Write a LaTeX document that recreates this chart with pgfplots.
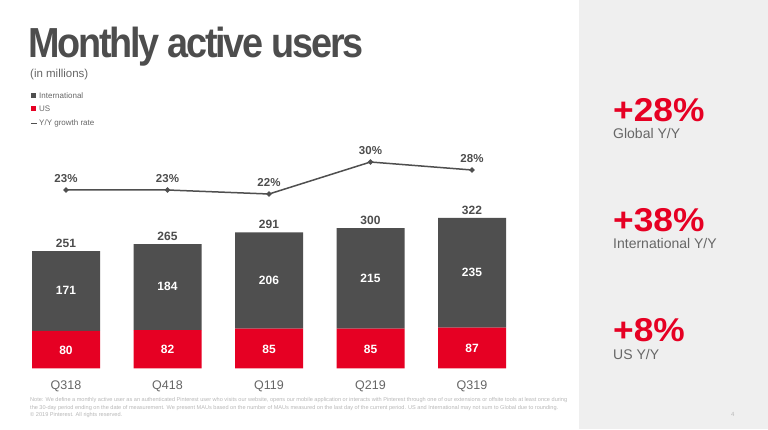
\documentclass[border=0pt]{standalone}
\usepackage{fontspec}
\setmainfont{Liberation Sans}
\newfontfamily\titlefont[LetterSpace=-6]{Liberation Sans}
\usepackage{pgfplots}
\pgfplotsset{compat=1.18}
\usepackage{graphicx}

\definecolor{pinred}{HTML}{E60023}
\definecolor{bargray}{HTML}{4F4F4F}
\definecolor{txtgray}{HTML}{4D4D4D}
\definecolor{softgray}{HTML}{666666}
\definecolor{panel}{HTML}{EFEFEF}
\definecolor{notegray}{HTML}{B8B8B8}

% common box for the bar axes (1pt = 1px)
\pgfplotsset{
  barbox/.style={
    at={(15.25pt,60.7pt)}, anchor=south west,
    scale only axis, width=507.5pt, height=186.8pt,
    xmin=-0.5, xmax=4.5, ymin=0, ymax=400,
    clip=false,
  },
}

\begin{document}
\begin{tikzpicture}[x=1pt,y=1pt]
\useasboundingbox (0,0) rectangle (768,429);
\fill[white] (0,0) rectangle (768,429);
\fill[panel] (579,0) rectangle (768,429);

% title block
\node[anchor=base west, inner sep=0, text=txtgray] at (28,371)
  {\scalebox{0.9}[1]{\fontsize{42}{42}\titlefont\bfseries Monthly active users}};
\node[anchor=base west, inner sep=0, text=softgray] at (30,351.5)
  {\fontsize{11.5}{12}\selectfont (in millions)};

% legend
\fill[bargray] (31,331) rectangle (36,336);
\node[anchor=west, inner sep=0, text=softgray] at (39,333.5) {\fontsize{8}{9}\selectfont International};
\fill[pinred] (31,318) rectangle (36,323);
\node[anchor=west, inner sep=0, text=softgray] at (39,320.5) {\fontsize{8}{9}\selectfont US};
\draw[bargray, line width=1.5pt] (31,305.7) -- (36.5,305.7);
\node[anchor=west, inner sep=0, text=softgray] at (39,306) {\fontsize{8}{9}\selectfont Y/Y growth rate};

% stacked bars
\begin{axis}[barbox,
  ybar stacked, bar width=68pt,
  axis line style={draw=none}, tick style={draw=none},
  ytick=\empty,
  xtick={0,1,2,3,4},
  xticklabels={Q318,Q418,Q119,Q219,Q319},
  xticklabel style={font=\fontsize{12.5}{14}\selectfont, text=softgray, yshift=-9pt},
]
\addplot[fill=pinred, draw=none] coordinates {(0,80) (1,82) (2,85) (3,85) (4,87)};
\addplot[fill=bargray, draw=none] coordinates {(0,171) (1,184) (2,206) (3,215) (4,235)};
\end{axis}

% value labels
\begin{axis}[barbox, hide axis]
\addplot[draw=none, nodes near coords, point meta=explicit symbolic,
  every node near coord/.style={anchor=center, text=white,
    font=\fontsize{12}{13}\selectfont\bfseries}]
  coordinates {(0,39) [80] (1,40) [82] (2,41) [85] (3,41) [85] (4,42) [87]};
\addplot[draw=none, nodes near coords, point meta=explicit symbolic,
  every node near coord/.style={anchor=center, text=white,
    font=\fontsize{12}{13}\selectfont\bfseries}]
  coordinates {(0,167) [171] (1,175) [184] (2,189) [206] (3,193) [215] (4,205) [235]};
\addplot[draw=none, nodes near coords, point meta=explicit symbolic,
  every node near coord/.style={anchor=south, inner sep=0pt, yshift=3.5pt, text=txtgray,
    font=\fontsize{12}{13}\selectfont\bfseries}]
  coordinates {(0,251) [251] (1,266) [265] (2,291) [291] (3,300) [300] (4,322) [322]};
\end{axis}

% growth rate line
\begin{axis}[
  at={(15.25pt,229pt)}, anchor=south west,
  scale only axis, width=507.5pt, height=50pt,
  xmin=-0.5, xmax=4.5, ymin=20.5, ymax=33,
  hide axis, clip=false,
]
\addplot[color=bargray, line width=1.5pt, mark=*, mark size=1.8pt,
  nodes near coords, point meta=explicit symbolic,
  every node near coord/.style={anchor=south, inner sep=0pt, yshift=6.5pt, text=txtgray,
    font=\fontsize{11.5}{12}\selectfont\bfseries}]
  coordinates {(0,23) [23\%] (1,23) [23\%] (2,22) [22\%] (3,30) [30\%] (4,28) [28\%]};
\end{axis}

% right panel
\node[anchor=base west, inner sep=0, text=pinred] at (613,307.5)
  {\scalebox{1.07}[1]{\fontsize{33}{33}\selectfont\bfseries +28\%}};
\node[anchor=base west, inner sep=0, text=softgray] at (613,290.5)
  {\fontsize{14}{14}\selectfont Global Y/Y};
\node[anchor=base west, inner sep=0, text=pinred] at (613,197.5)
  {\scalebox{1.07}[1]{\fontsize{33}{33}\selectfont\bfseries +38\%}};
\node[anchor=base west, inner sep=0, text=softgray] at (613,181)
  {\fontsize{14}{14}\selectfont International Y/Y};
\node[anchor=base west, inner sep=0, text=pinred] at (613,87.5)
  {\scalebox{1.07}[1]{\fontsize{33}{33}\selectfont\bfseries +8\%}};
\node[anchor=base west, inner sep=0, text=softgray] at (613,70)
  {\fontsize{14}{14}\selectfont US Y/Y};

% footnote
\node[anchor=base west, inner sep=0, text=notegray] at (30,27.5)
  {\resizebox{537pt}{!}{\fontsize{5}{6}\selectfont Note: We define a monthly active user as an authenticated Pinterest user who visits our website, opens our mobile application or interacts with Pinterest through one of our extensions or offsite tools at least once during}};
\node[anchor=base west, inner sep=0, text=notegray] at (30,20)
  {\resizebox{528pt}{!}{\fontsize{5}{6}\selectfont the 30-day period ending on the date of measurement. We present MAUs based on the number of MAUs measured on the last day of the current period. US and International may not sum to Global due to rounding.}};
\node[anchor=base west, inner sep=0, text=notegray] at (30,12.5)
  {\resizebox{92pt}{!}{\fontsize{5}{6}\selectfont \textcopyright{} 2019 Pinterest. All rights reserved.}};
\node[anchor=base west, inner sep=0, text=notegray] at (731,12.5) {\fontsize{6}{7}\selectfont 4};
\end{tikzpicture}
\end{document}
